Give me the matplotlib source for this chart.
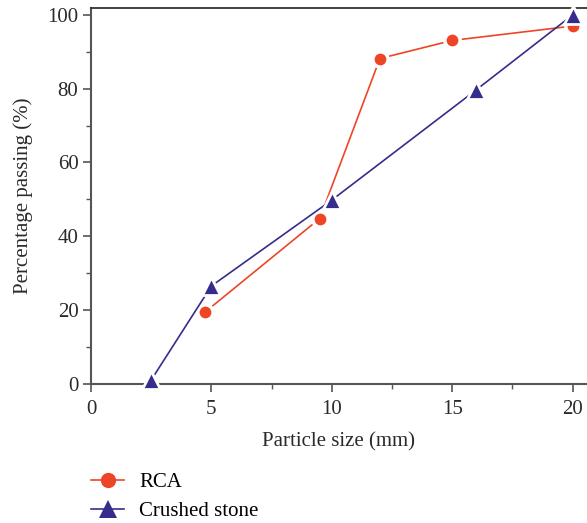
import matplotlib
matplotlib.use("Agg")
import matplotlib.pyplot as plt
from matplotlib.lines import Line2D

rca_x = [4.75, 9.5, 12, 15, 20]
rca_y = [19.5, 44.8, 88.2, 93.1, 97.0]
cs_x = [2.5, 5, 10, 16, 20]
cs_y = [1.0, 26.5, 49.8, 79.7, 100.0]
xticks = [0, 5, 10, 15, 20]
yticks = [0, 20, 40, 60, 80, 100]

plt.rcParams['font.family'] = ['Liberation Serif', 'DejaVu Serif']
fig = plt.figure(figsize=(5.87, 5.23), dpi=100)
ax = fig.add_axes([0.155, 0.2663, 0.845, 0.7184])

red = '#EE4527'
navy = '#342D8C'
txt = '#2a2a2a'
ax.plot(rca_x, rca_y, color=red, lw=1.2, marker='o', ms=11, mfc=red,
        mec='white', mew=2.5, clip_on=False, zorder=3)
ax.plot(cs_x, cs_y, color=navy, lw=1.2, marker='^', ms=13, mfc=navy,
        mec='white', mew=2.0, clip_on=False, zorder=4)

ax.set_xlim(0, 20.6)
ax.set_ylim(0, 101.9)
ax.set_xticks(xticks)
ax.set_yticks(yticks)
ax.set_xticks([2.5, 7.5, 12.5, 17.5], minor=True)
ax.set_yticks([10, 30, 50, 70, 90], minor=True)
ax.tick_params(which='major', direction='out', length=6, width=1.2, color='#555555',
               labelsize=15, labelcolor=txt, pad=3)
ax.tick_params(axis='x', which='major', pad=6)
ax.tick_params(which='minor', direction='out', length=3.5, width=1.0, color='#555555')
for s in ['left', 'bottom']:
    ax.spines[s].set_color('#555555')
    ax.spines[s].set_linewidth(1.5)
ax.spines['top'].set_color('#333333')
ax.spines['top'].set_linewidth(1.3)
ax.spines['right'].set_visible(False)

ax.set_xlabel('Particle size (mm)', fontsize=15, color=txt, labelpad=9)
ax.set_ylabel('Percentage passing (%)', fontsize=15, color=txt, labelpad=10)

handles = [Line2D([], [], color=red, lw=1.2, marker='o', ms=11, mfc=red, mec=red, mew=0),
           Line2D([], [], color=navy, lw=1.2, marker='^', ms=13, mfc=navy, mec=navy, mew=0)]
fig.legend(handles, ['RCA', 'Crushed stone'], loc='upper left',
           bbox_to_anchor=(0.155, 0.097), frameon=False,
           fontsize=15, handlelength=1.6, labelspacing=0.45, handletextpad=0.7,
           borderaxespad=0, borderpad=0)

fig.savefig('out.png', dpi=100)
